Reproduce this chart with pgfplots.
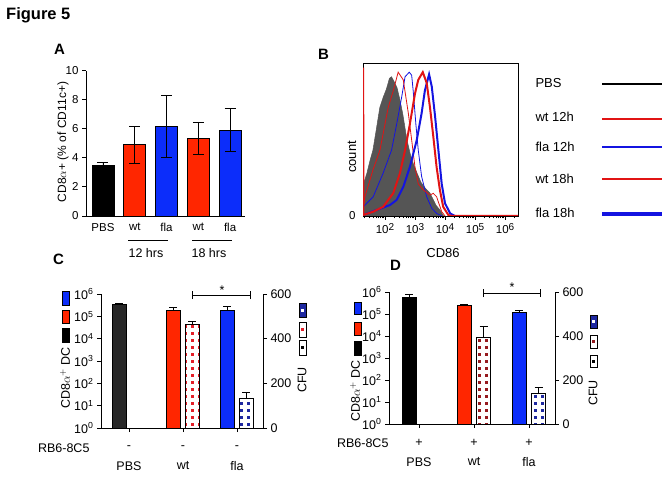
\documentclass[border=0pt]{standalone}
\usepackage{fontspec}
\setmainfont{Liberation Sans}
\usepackage{pgfplots}
\pgfplotsset{compat=1.18}
\usetikzlibrary{patterns}

\definecolor{barred}{RGB}{255,38,0}
\definecolor{barblue}{RGB}{12,45,250}
\definecolor{pbsgray}{RGB}{40,40,40}
\definecolor{histgray}{RGB}{85,85,85}
\definecolor{dotred}{RGB}{228,30,40}
\definecolor{dotmaroon}{RGB}{150,25,30}
\definecolor{dotblue}{RGB}{30,40,160}
\definecolor{linered}{RGB}{225,20,20}
\definecolor{lineblue}{RGB}{20,20,225}

\pgfdeclarepatternformonly{sqdots}{\pgfpoint{-1pt}{-1pt}}{\pgfpoint{8pt}{8pt}}{\pgfpoint{7pt}{7pt}}%
{\pgfpathrectangle{\pgfpoint{2pt}{2pt}}{\pgfpoint{3.2pt}{3.2pt}}\pgfusepath{fill}}

\newcommand{\fA}{\fontsize{11.5}{13}\selectfont}
\newcommand{\fC}{\fontsize{12.5}{14}\selectfont}
\newcommand{\fB}{\fontsize{13}{15}\selectfont}
\newcommand{\tp}[1]{10\raisebox{0.55ex}{\fontsize{10}{10}\selectfont #1}}

\pgfplotsset{
  gp/.style={scale only axis, anchor=south west,
    axis line style={line width=0.9pt},
    tick style={line width=0.9pt, black},
    tick align=outside, major tick length=4pt,
    /pgf/number format/assume math mode=true,
    ybar, clip=false},
  ebA/.style={error bars/.cd, y dir=both, y explicit,
    error bar style={black, line width=0.9pt},
    error mark options={rotate=90, mark size=5.5pt, line width=0.9pt, black}},
  ebC/.style={error bars/.cd, y dir=plus, y explicit,
    error bar style={black, line width=0.9pt},
    error mark options={rotate=90, mark size=4pt, line width=0.9pt, black}},
}

\begin{document}
\begin{tikzpicture}[x=1pt,y=1pt]
\useasboundingbox (0,0) rectangle (669,477);

% ---------- titles ----------
\node[anchor=base west, font=\fontsize{16.5}{18}\selectfont\bfseries, inner sep=0] at (6,457) {Figure 5};
\node[anchor=base west, font=\fontsize{15}{17}\selectfont\bfseries, inner sep=0] at (54,422) {A};
\node[anchor=base west, font=\fontsize{15}{17}\selectfont\bfseries, inner sep=0] at (318,417) {B};
\node[anchor=base west, font=\fontsize{15}{17}\selectfont\bfseries, inner sep=0] at (53,212) {C};
\node[anchor=base west, font=\fontsize{15}{17}\selectfont\bfseries, inner sep=0] at (390,206) {D};

% ---------- Panel A ----------
\begin{axis}[gp, at={(86pt,261pt)}, width=159pt, height=145.3pt,
  xmin=-0.535, xmax=4.47, ymin=0, ymax=10,
  axis x line*=bottom, axis y line*=left,
  ytick={0,2,...,10}, xtick={0,...,4},
  xticklabels={PBS,wt,fla,wt,fla},
  x tick style={draw=none},
  tick label style={font=\fA},
  bar width=22pt]
\addplot[fill=black, draw=black, line width=0.8pt, bar shift=0pt, ebA] coordinates {(0,3.45) +- (0,0.25)};
\addplot[fill=barred, draw=black, line width=0.8pt, bar shift=0pt, ebA] coordinates {(1,4.9) +- (0,1.25) (3,5.35) +- (0,1.12)};
\addplot[fill=barblue, draw=black, line width=0.8pt, bar shift=0pt, ebA] coordinates {(2,6.15) +- (0,2.15) (4,5.9) +- (0,1.48)};
\end{axis}
\node[rotate=90, font=\fontsize{12}{14}\selectfont] at (63,335) {CD8$\alpha$+ (\% of CD11c+)};
\draw[line width=0.9pt] (128,236.3) -- (168,236.3);
\draw[line width=0.9pt] (192,236.3) -- (232,236.3);
\node[font=\fC] at (146,224) {12 hrs};
\node[font=\fC] at (209,224) {18 hrs};

% ---------- Panel B ----------
\begin{axis}[scale only axis, anchor=south west, at={(363pt,261pt)}, width=155pt, height=153pt,
  xmin=1.27, xmax=6.43, ymin=0, ymax=1,
  axis line style={line width=0.8pt},
  xtick={2,3,4,5,6},
  xticklabels={\tp{2},\tp{3},\tp{4},\tp{5},\tp{6}},
  minor xtick={1.301,1.477,1.602,1.699,1.778,1.845,1.903,1.954,
    2.301,2.477,2.602,2.699,2.778,2.845,2.903,2.954,
    3.301,3.477,3.602,3.699,3.778,3.845,3.903,3.954,
    4.301,4.477,4.602,4.699,4.778,4.845,4.903,4.954,
    5.301,5.477,5.602,5.699,5.778,5.845,5.903,5.954,6.301},
  ytick={0}, yticklabels={0},
  ytick style={draw=none},
  x tick style={line width=0.6pt, black},
  xtick pos=bottom, tick align=outside,
  major tick length=4pt, minor tick length=2.5pt,
  tick label style={font=\fontsize{11.5}{13}\selectfont},
  /pgf/number format/assume math mode=true]
\addplot[fill=histgray, draw=histgray, line width=0.5pt] table {
1.27 0.20
1.40 0.28
1.50 0.36
1.60 0.43
1.70 0.55
1.83 0.71
1.95 0.78
2.05 0.83
2.15 0.90
2.22 0.91
2.30 0.88
2.40 0.84
2.50 0.76
2.60 0.66
2.73 0.50
2.85 0.40
2.95 0.34
3.07 0.28
3.20 0.22
3.35 0.18
3.50 0.15
3.60 0.11
3.70 0.07
3.83 0.04
3.95 0.00
} \closedcycle;
\addplot[lineblue, line width=0.8pt] table {
1.28 0.06
1.61 0.126
1.94 0.28
2.22 0.43
2.39 0.60
2.56 0.78
2.67 0.91
2.81 0.94
2.89 0.92
2.94 0.82
3.03 0.60
3.11 0.43
3.22 0.26
3.39 0.126
3.56 0.05
3.72 0.017
3.89 0.00
};
\addplot[linered, line width=0.8pt] table {
1.28 0.05
1.333 0.126
1.60 0.30
1.833 0.43
2.11 0.71
2.28 0.82
2.44 0.94
2.61 0.89
2.78 0.67
2.89 0.497
3.00 0.32
3.11 0.21
3.28 0.17
3.50 0.137
3.61 0.148
3.72 0.126
3.89 0.028
4.00 0.00
};
\addplot[lineblue, line width=2pt] table {
1.28 0.007
1.72 0.039
2.17 0.072
2.39 0.105
2.61 0.19
2.83 0.32
3.06 0.497
3.22 0.67
3.33 0.82
3.47 0.926
3.56 0.845
3.67 0.65
3.78 0.43
3.89 0.21
4.00 0.083
4.17 0.017
4.33 0.00
};
\addplot[linered, line width=2pt] table {
1.275 0.97
1.285 0.007
1.61 0.028
1.94 0.06
2.28 0.15
2.50 0.28
2.67 0.43
2.83 0.60
3.00 0.80
3.11 0.89
3.26 0.94
3.39 0.87
3.50 0.71
3.61 0.52
3.72 0.32
3.83 0.17
3.94 0.06
4.11 0.007
4.22 0.00
6.43 0.00
};
\end{axis}
\node[rotate=90, font=\fB] at (352,320) {count};
\node[font=\fB] at (443,224) {CD86};
% legend B
\node[anchor=west, font=\fB] at (532,394) {PBS};
\node[anchor=west, font=\fB] at (532,360) {wt 12h};
\node[anchor=west, font=\fB] at (532,330) {fla 12h};
\node[anchor=west, font=\fB] at (532,298) {wt 18h};
\node[anchor=west, font=\fB] at (532,264) {fla 18h};
\draw[black, line width=1.3pt] (602,393) -- (662,393);
\draw[linered, line width=1.2pt] (602,358) -- (662,358);
\draw[lineblue, line width=1.2pt] (602,330) -- (662,330);
\draw[linered, line width=2.8pt] (602,298) -- (662,298);
\draw[lineblue, line width=3.2pt] (602,263) -- (662,263);

% ---------- Panel C ----------
\begin{axis}[gp, at={(101pt,49pt)}, width=162pt, height=134pt,
  xmin=-0.52, xmax=2.48, ymode=log, ymin=1, ymax=1e6,
  axis x line*=bottom, axis y line*=left,
  ytick={1,10,100,1000,10000,100000,1000000},
  yticklabels={10\textsuperscript{0},10\textsuperscript{1},10\textsuperscript{2},10\textsuperscript{3},10\textsuperscript{4},10\textsuperscript{5},10\textsuperscript{6}},
  yminorticks=false,
  xtick={0,1,2}, xticklabels={},
  tick label style={font=\fC},
  bar width=14pt]
\addplot[fill=pbsgray, draw=black, line width=0.8pt, bar shift=0pt, ebC] coordinates {(-0.185,3.5e5) +- (0,0.1e5)};
\addplot[fill=barred, draw=black, line width=0.8pt, bar shift=0pt, ebC] coordinates {(0.815,1.9e5) +- (0,0.55e5)};
\addplot[fill=barblue, draw=black, line width=0.8pt, bar shift=0pt, ebC] coordinates {(1.815,1.9e5) +- (0,0.8e5)};
\end{axis}
\begin{axis}[gp, at={(101pt,49pt)}, width=162pt, height=134pt,
  xmin=-0.52, xmax=2.48, ymin=0, ymax=600,
  axis y line*=right, axis x line=none,
  ytick={0,200,400,600},
  tick label style={font=\fC},
  bar width=14pt]
\addplot[fill=white, draw=black, line width=0.8pt, bar shift=0pt, postaction={pattern=sqdots, pattern color=dotred}, ebC] coordinates {(1.17,466) +- (0,13)};
\addplot[fill=white, draw=black, line width=0.8pt, bar shift=0pt, postaction={pattern=sqdots, pattern color=dotblue}, ebC] coordinates {(2.17,134) +- (0,24)};
\end{axis}
\draw[line width=0.9pt] (192,182) -- (250,182) (192,178) -- (192,186) (250,178) -- (250,186);
\node[font=\fC] at (222,187) {*};
\node[anchor=east, font=\fC] at (93,29) {RB6-8C5};
\node[font=\fC] at (129,29) {-};
\node[font=\fC] at (183,29) {-};
\node[font=\fC] at (237,29) {-};
\node[font=\fC] at (129,11) {PBS};
\node[font=\fC] at (183,11) {wt};
\node[font=\fC] at (237,11) {fla};
\draw[fill=barblue, draw=black, line width=0.6pt] (62,172) rectangle (69,186);
\draw[fill=barred, draw=black, line width=0.6pt] (62,154) rectangle (69,167);
\draw[fill=black, draw=black, line width=0.6pt] (62,135) rectangle (69,149);
\node[rotate=90, font=\fC] at (65,99) {CD8$\alpha^{+}$ DC};
\node[rotate=90, font=\fC] at (302,97) {CFU};
\draw[fill=dotblue, draw=black, line width=0.8pt] (299,160) rectangle (306,174);
\fill[white] (301.2,165.5) rectangle (303.8,168.5);
\draw[fill=white, draw=black, line width=0.8pt] (299,140) rectangle (306,155);
\fill[dotred] (301.2,146) rectangle (303.8,149);
\draw[fill=white, draw=black, line width=0.8pt] (299,122) rectangle (306,137);
\fill[black] (301.2,128) rectangle (303.8,131);

% ---------- Panel D ----------
\begin{axis}[gp, at={(389pt,53pt)}, width=166pt, height=132pt,
  xmin=-0.545, xmax=2.473, ymode=log, ymin=1, ymax=1e6,
  axis x line*=bottom, axis y line*=left,
  ytick={1,10,100,1000,10000,100000,1000000},
  yticklabels={10\textsuperscript{0},10\textsuperscript{1},10\textsuperscript{2},10\textsuperscript{3},10\textsuperscript{4},10\textsuperscript{5},10\textsuperscript{6}},
  yminorticks=false,
  xtick={0,1,2}, xticklabels={},
  tick label style={font=\fC},
  bar width=14pt]
\addplot[fill=black, draw=black, line width=0.8pt, bar shift=0pt, ebC] coordinates {(-0.173,5.9e5) +- (0,2.2e5)};
\addplot[fill=barred, draw=black, line width=0.8pt, bar shift=0pt, ebC] coordinates {(0.827,2.57e5) +- (0,0.1e5)};
\addplot[fill=barblue, draw=black, line width=0.8pt, bar shift=0pt, ebC] coordinates {(1.827,1.23e5) +- (0,0.28e5)};
\end{axis}
\begin{axis}[gp, at={(389pt,53pt)}, width=166pt, height=132pt,
  xmin=-0.545, xmax=2.473, ymin=0, ymax=600,
  axis y line*=right, axis x line=none,
  ytick={0,200,400,600},
  tick label style={font=\fC},
  bar width=14pt]
\addplot[fill=white, draw=black, line width=0.8pt, bar shift=0pt, postaction={pattern=sqdots, pattern color=dotmaroon}, ebC] coordinates {(1.173,395) +- (0,50)};
\addplot[fill=white, draw=black, line width=0.8pt, bar shift=0pt, postaction={pattern=sqdots, pattern color=dotblue}, ebC] coordinates {(2.173,141) +- (0,23)};
\end{axis}
\draw[line width=0.9pt] (483,184) -- (540,184) (483,180) -- (483,188) (540,180) -- (540,188);
\node[font=\fC] at (512,190) {*};
\node[anchor=east, font=\fC] at (392,34) {RB6-8C5};
\node[font=\fC] at (419,34) {+};
\node[font=\fC] at (474,34) {+};
\node[font=\fC] at (529,34) {+};
\node[font=\fC] at (419,15) {PBS};
\node[font=\fC] at (474,15) {wt};
\node[font=\fC] at (529,15) {fla};
\draw[fill=barblue, draw=black, line width=0.6pt] (354,163) rectangle (361,175);
\draw[fill=barred, draw=black, line width=0.6pt] (354,142) rectangle (361,155);
\draw[fill=black, draw=black, line width=0.6pt] (354,122) rectangle (361,136);
\node[rotate=90, font=\fC] at (355,86) {CD8$\alpha^{+}$ DC};
\node[rotate=90, font=\fC] at (593,84) {CFU};
\draw[fill=dotblue, draw=black, line width=0.8pt] (590,149) rectangle (597,162);
\fill[white] (592.2,154) rectangle (594.8,157);
\draw[fill=white, draw=black, line width=0.8pt] (590,129) rectangle (597,142);
\fill[dotmaroon] (592.2,134) rectangle (594.8,137);
\draw[fill=white, draw=black, line width=0.8pt] (590,110) rectangle (597,122);
\fill[black] (592.2,114.5) rectangle (594.8,117.5);
\end{tikzpicture}
\end{document}
